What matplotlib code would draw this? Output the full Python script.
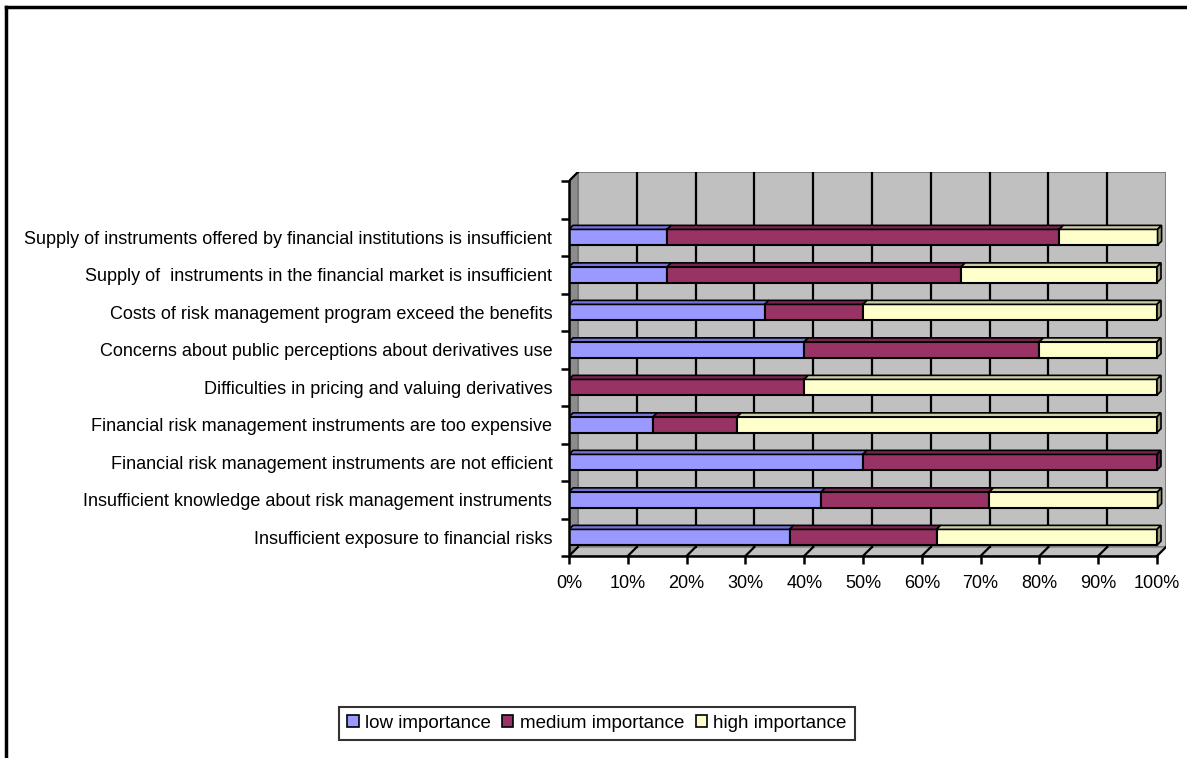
import matplotlib.pyplot as plt
from matplotlib.patches import Polygon, Rectangle, Patch
from matplotlib.lines import Line2D

categories = [
    'Insufficient exposure to financial risks',
    'Insufficient knowledge about risk management instruments',
    'Financial risk management instruments are not efficient',
    'Financial risk management instruments are too expensive',
    'Difficulties in pricing and valuing derivatives',
    'Concerns about public perceptions about derivatives use',
    'Costs of risk management program exceed the benefits',
    'Supply of  instruments in the financial market is insufficient',
    'Supply of instruments offered by financial institutions is insufficient',
]
low = [37.5, 42.9, 50.0, 14.3, 0.0, 40.0, 33.3, 16.7, 16.7]
medium = [25.0, 28.6, 50.0, 14.3, 40.0, 40.0, 16.7, 50.0, 66.7]
high = [37.5, 28.6, 0.0, 71.4, 60.0, 20.0, 50.0, 33.3, 16.7]
series_names = ['low importance', 'medium importance', 'high importance']
x_ticks = [0, 10, 20, 30, 40, 50, 60, 70, 80, 90, 100]
x_labels = ['0%', '10%', '20%', '30%', '40%', '50%', '60%', '70%', '80%', '90%', '100%']

face = ['#9999FF', '#993366', '#FFFFCC']
top = ['#7373D9', '#7A2450', '#CCCCA6']
side = ['#5C5CAA', '#5E1C3E', '#99997A']

plt.rcParams['font.family'] = ['Liberation Sans', 'DejaVu Sans']
W, H = 1187, 758
fig = plt.figure(figsize=(W / 100, H / 100), dpi=100)

# 3d depth of the wall (data units) and of the bars
DX, DY = 1.53, 0.24
BDX, BDY = 0.68, 0.107
bh = 0.42
n = len(categories)

ax = fig.add_axes([569 / W, (H - 556) / H, 597 / W, 384 / H])
ax.set_xlim(0, 100 + DX)
ax.set_ylim(-0.5, n + 0.5 + DY)
ax.patch.set_visible(False)

top_y = n + 0.5
# walls
ax.add_patch(Rectangle((DX, -0.5 + DY), 100, n + 1, facecolor='#C0C0C0',
                       edgecolor='#808080', lw=1.5, zorder=0))
ax.add_patch(Polygon([(0, -0.5), (DX, -0.5 + DY), (DX, top_y + DY), (0, top_y)],
                     facecolor='#8C8C8C', edgecolor='#707070', lw=1, zorder=0))
ax.add_patch(Polygon([(0, -0.5), (100, -0.5), (100 + DX, -0.5 + DY), (DX, -0.5 + DY)],
                     facecolor='#C0C0C0', edgecolor='#808080', lw=1, zorder=0))
for t in x_ticks[1:-1]:
    ax.plot([t + DX, t + DX], [-0.5 + DY, top_y + DY], color='black', lw=1.6, zorder=1)
for t in x_ticks:
    ax.plot([t, t + DX], [-0.5, -0.5 + DY], color='black', lw=1.6, zorder=1)
ax.plot([0, DX], [top_y, top_y + DY], color='black', lw=1.6, zorder=1)

# bars
for i in range(n):
    left = 0
    vals = [low[i], medium[i], high[i]]
    last = max(j for j in range(3) if vals[j] > 0)
    for j, v in enumerate(vals):
        if v <= 0:
            continue
        ax.barh(i, v, left=left, height=bh, color=face[j], edgecolor='black', lw=1.5, zorder=3)
        yt = i + bh / 2
        ax.add_patch(Polygon([(left, yt), (left + v, yt), (left + v + BDX, yt + BDY), (left + BDX, yt + BDY)],
                             facecolor=top[j], edgecolor='black', lw=1.2, zorder=3))
        if j == last:
            x1 = left + v
            ax.add_patch(Polygon([(x1, i - bh / 2), (x1 + BDX, i - bh / 2 + BDY),
                                  (x1 + BDX, yt + BDY), (x1, yt)],
                                 facecolor=side[j], edgecolor='black', lw=1.2, zorder=3))
        left += v

for s in ['top', 'right']:
    ax.spines[s].set_visible(False)
for s in ['left', 'bottom']:
    ax.spines[s].set_linewidth(1.8)
    ax.spines[s].set_zorder(4)
ax.spines['left'].set_bounds(-0.5, top_y)
ax.spines['bottom'].set_bounds(0, 100)

ax.set_yticks(range(n), categories)
ax.set_yticks([k - 0.5 for k in range(n + 2)], minor=True)
ax.tick_params(axis='y', which='major', length=0, pad=12, labelsize=13)
ax.tick_params(axis='y', which='minor', length=6, width=1.8, direction='out')
ax.set_xticks(x_ticks, x_labels)
ax.tick_params(axis='x', length=6, width=1.8, direction='out', pad=8, labelsize=13)

handles = [Patch(facecolor=face[j], edgecolor='black', lw=1.2) for j in range(3)]
leg = fig.legend(handles, series_names, loc='center', bbox_to_anchor=(0.503, 0.0455), ncol=3,
                 fontsize=13.5, frameon=True, fancybox=False, edgecolor='black',
                 handlelength=0.6, handleheight=0.6, handletextpad=0.35, columnspacing=0.6,
                 borderpad=0.45)
leg.get_frame().set_linewidth(1.5)

fig.add_artist(Line2D([6 / W, 6 / W], [0, 1 - 7 / H], color='black', lw=2.5))
fig.add_artist(Line2D([6 / W, 1], [1 - 7 / H, 1 - 7 / H], color='black', lw=2.5))

fig.savefig('out.png', dpi=100)
